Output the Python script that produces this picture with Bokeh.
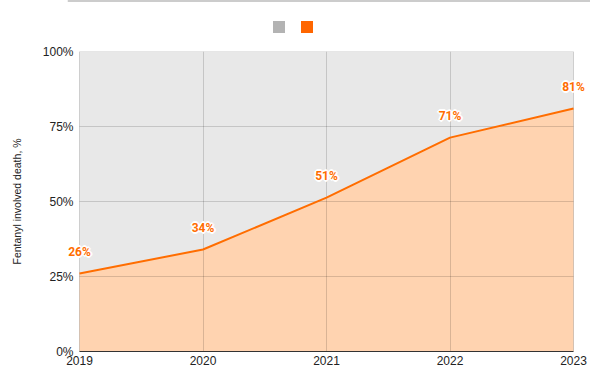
from bokeh.plotting import figure
from bokeh.layouts import column
from bokeh.models import (ColumnDataSource, FixedTicker, PrintfTickFormatter, Range1d,
                          Legend, LegendItem, LabelSet, Span)
from bokeh.core.properties import value
from bokeh.embed import file_html
from bokeh.resources import INLINE

years = [2019, 2020, 2021, 2022, 2023]
fentanyl_pct = [26, 34, 51.3, 71.3, 81]
pct_labels = ["26%", "34%", "51%", "71%", "81%"]
y_ticks = [0, 25, 50, 75, 100]

src = ColumnDataSource(dict(x=years, y=fentanyl_pct, lab=pct_labels))

# ---- legend strip (swatches only, no labels) ----
leg = figure(width=590, height=40, output_backend="svg", toolbar_location=None,
             x_range=Range1d(0, 1), y_range=Range1d(0, 1),
             x_axis_type=None, y_axis_type=None,
             min_border_left=0, min_border_right=0, min_border_top=0, min_border_bottom=0)
leg.outline_line_color = None
leg.grid.visible = False
leg.add_layout(Span(location=leg.y_range.end, dimension="width",
                    line_color="#999999", line_width=2))
nan = float("nan")
dummy = ColumnDataSource(dict(l=[nan], r=[nan], b=[nan], t=[nan]))
g1 = leg.quad(left="l", right="r", bottom="b", top="t", source=dummy,
              fill_color="#b3b3b3", line_color=None)
g2 = leg.quad(left="l", right="r", bottom="b", top="t", source=dummy,
              fill_color="#ff6600", line_color=None)
legend = Legend(items=[LegendItem(label=value(" "), renderers=[g1]),
                       LegendItem(label=value(" "), renderers=[g2])],
                orientation="horizontal", location=(203.5, 6.5),
                glyph_width=15, glyph_height=15, label_width=0, label_height=15,
                label_standoff=0, spacing=13, padding=0, margin=0,
                label_text_font_size="1px",
                border_line_color=None, background_fill_alpha=0)
leg.add_layout(legend, "center")

# ---- main chart ----
# frame is widened a little beyond the first/last year so edge labels are not clipped
px_per_year = 123.5
pad_l, pad_r = 12 / px_per_year, 17 / px_per_year
p = figure(width=590, height=337, output_backend="svg", toolbar_location=None,
           x_range=Range1d(years[0] - pad_l, years[-1] + pad_r),
           y_range=Range1d(y_ticks[0], y_ticks[-1]),
           min_border_left=67, min_border_right=0, min_border_top=11, min_border_bottom=26)
p.background_fill_color = "white"
p.border_fill_color = "white"
p.outline_line_color = None

p.quad(left=[years[0]], right=[years[-1]], bottom=[y_ticks[0]], top=[y_ticks[-1]],
       fill_color="#e8e8e8", line_color=None, level="image")
p.varea(x="x", y1=0, y2="y", source=src, fill_color="#ffd3b0", level="image")
p.segment(x0=years[0], x1=years[-1], y0=y_ticks, y1=y_ticks,
          line_color="black", line_alpha=0.15, line_width=1, level="underlay")
p.line(x="x", y="y", source=src, line_color="#ff6d00", line_width=2)

label_kw = dict(x="x", y="y", text="lab", source=src,
                text_align="center", text_baseline="middle",
                text_font=value("Roboto"), text_font_style="bold", text_font_size="12px")
for dx, dy in [(-1, -1), (0, -1), (1, -1), (-1, 0), (1, 0), (-1, 1), (0, 1), (1, 1),
               (-2, 0), (2, 0), (0, -2), (0, 2)]:
    p.add_layout(LabelSet(x_offset=dx, y_offset=22 + dy, text_color="white", **label_kw))
p.add_layout(LabelSet(y_offset=22, text_color="#ff6d00", **label_kw))

p.xaxis.ticker = FixedTicker(ticks=years)
p.xaxis.bounds = (years[0], years[-1])
p.yaxis.ticker = FixedTicker(ticks=y_ticks)
p.yaxis.formatter = PrintfTickFormatter(format="%d%%")
for ax in (p.xaxis[0], p.yaxis[0]):
    ax.major_tick_line_color = None
    ax.minor_tick_line_color = None
    ax.major_tick_out = 0
    ax.major_label_text_font = "Liberation Sans"
    ax.major_label_text_font_size = "12px"
    ax.major_label_text_color = "#222222"
p.xaxis.major_label_standoff = 4
p.yaxis.major_label_standoff = -6
p.xaxis.axis_line_color = "#333333"
p.yaxis.axis_line_color = None
p.yaxis.axis_label = "Fentanyl involved death, %"
p.yaxis.axis_label_text_font = "Liberation Sans"
p.yaxis.axis_label_text_font_size = "10.5px"
p.yaxis.axis_label_text_font_style = "normal"
p.yaxis.axis_label_text_color = "#222222"
p.yaxis.axis_label_standoff = 17

p.xgrid.grid_line_color = "#000000"
p.xgrid.grid_line_alpha = 0.15
p.xgrid.ticker = FixedTicker(ticks=years)
p.ygrid.visible = False

layout = column(leg, p, spacing=0)
open("out.html", "w").write(file_html(layout, INLINE))
